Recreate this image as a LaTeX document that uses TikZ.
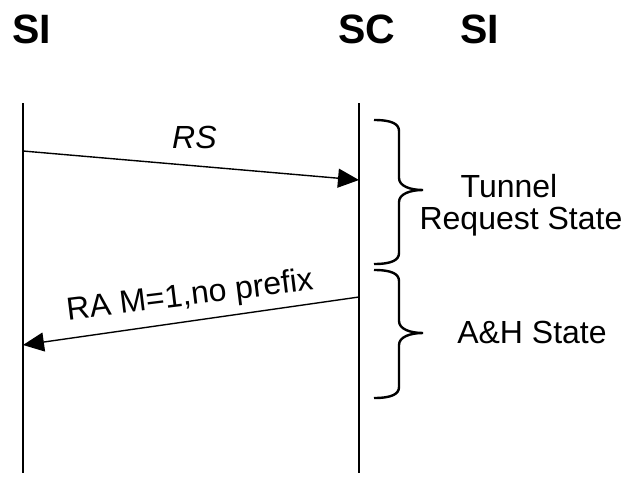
\documentclass[tikz,border=0pt]{standalone}
\usepackage{fontspec}
\setmainfont{Liberation Sans}
\usetikzlibrary{arrows.meta}
\begin{document}
\begin{tikzpicture}[x=1pt,y=-1pt,
  title/.style={font=\fontsize{41}{41}\selectfont\bfseries, inner sep=0pt},
  label/.style={font=\fontsize{32}{32}\selectfont, inner sep=0pt},
  lifeline/.style={line width=2pt},
  msg/.style={line width=1.4pt, -{Triangle[length=21pt,width=19pt]}},
  bracket/.style={line width=2.4pt}]
\useasboundingbox (0,0) rectangle (622,488);

% participants
\node[title, anchor=base west] (siL) at (12,43) {SI};
\node[title, anchor=base west] (sc) at (338,43) {SC};
\node[title, anchor=base west] (siR) at (460,43) {SI};

% lifelines
\coordinate (lTop) at (23,103);
\coordinate (lBot) at (23,473);
\coordinate (rTop) at (359,103);
\coordinate (rBot) at (359,473);
\draw[lifeline] (lTop) -- (lBot);
\draw[lifeline] (rTop) -- (rBot);

% messages
\coordinate (rsFrom) at (23,151);
\coordinate (rsTo) at (359,180);
\draw[msg] (rsFrom) -- (rsTo);
\node[label, anchor=base west] (rs) at (172,148) {\itshape RS};

\coordinate (raFrom) at (359,297);
\coordinate (raTo) at (23,345);
\draw[msg] (raFrom) -- (raTo);
\node[label, anchor=base, rotate=7] (ra) at (191,305) {RA M=1,no prefix};

% state braces
\draw[bracket] (374,120) .. controls (392,120) and (399,124) .. (399,131)
  -- (399,178) .. controls (399,186) and (410,190) .. (423,190)
  .. controls (410,190) and (399,194) .. (399,202)
  -- (399,253) .. controls (399,260) and (392,264) .. (374,264);
\draw[bracket] (374,270) .. controls (392,270) and (399,274) .. (399,281)
  -- (399,321) .. controls (399,329) and (410,333) .. (423,333)
  .. controls (410,333) and (399,337) .. (399,345)
  -- (399,387) .. controls (399,394) and (392,398) .. (374,398);

% state names
\node[label, anchor=base] (tun1) at (509,197) {Tunnel};
\node[label, anchor=base] (tun2) at (521,229) {Request State};
\node[label, anchor=base] (ah) at (532,343) {A\&H State};
\end{tikzpicture}
\end{document}
